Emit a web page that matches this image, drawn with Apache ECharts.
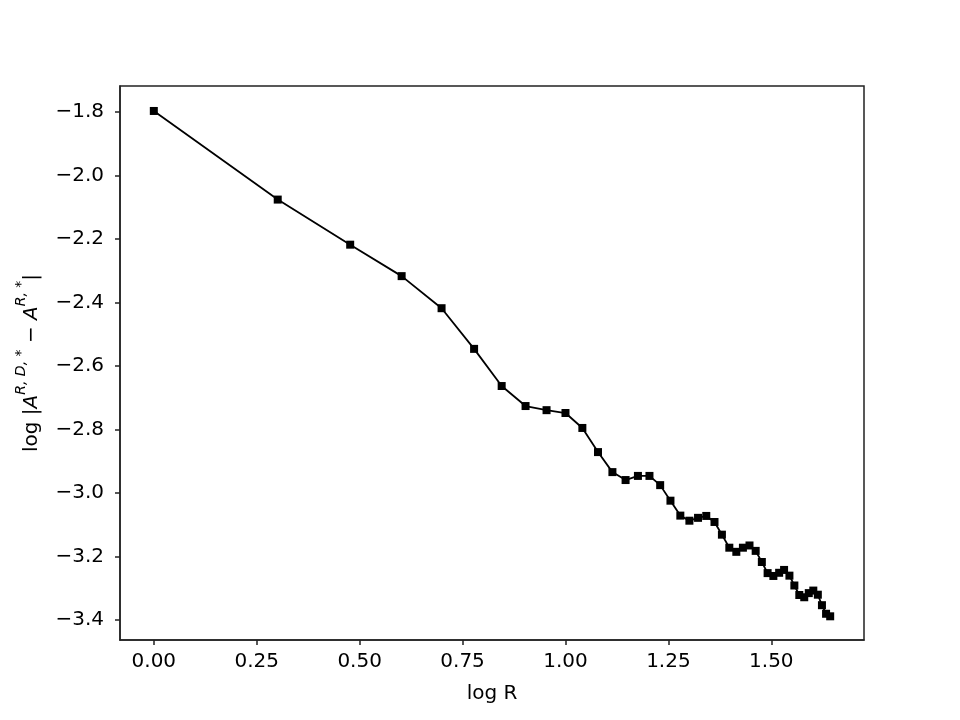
<!DOCTYPE html>
<html>
<head>
<meta charset="utf-8">
<script src="https://cdn.jsdelivr.net/npm/echarts@6/dist/echarts.min.js"></script>
<style>
html,body{margin:0;padding:0;background:#fff;}
#main{width:960px;height:720px;}
</style>
</head>
<body>
<div id="main"></div>
<script>
var logR = [0.000, 0.301, 0.477, 0.602, 0.699, 0.778, 0.845, 0.903, 0.954, 1.000,
            1.041, 1.079, 1.114, 1.146, 1.176, 1.204, 1.230, 1.255, 1.279, 1.301,
            1.322, 1.342, 1.362, 1.380, 1.398, 1.415, 1.431, 1.447, 1.462, 1.477,
            1.491, 1.505, 1.519, 1.531, 1.544, 1.556, 1.568, 1.580, 1.591, 1.602,
            1.613, 1.623, 1.633, 1.643];
var logDiff = [-1.797, -2.076, -2.218, -2.317, -2.418, -2.546, -2.663, -2.726, -2.739, -2.748,
               -2.795, -2.871, -2.934, -2.959, -2.946, -2.946, -2.975, -3.024, -3.071, -3.087,
               -3.078, -3.072, -3.091, -3.131, -3.172, -3.185, -3.172, -3.165, -3.182, -3.217,
               -3.252, -3.261, -3.251, -3.242, -3.260, -3.291, -3.321, -3.328, -3.315, -3.307,
               -3.320, -3.353, -3.380, -3.388];
var xTicks = [0, 0.25, 0.5, 0.75, 1.0, 1.25, 1.5];
var yTicks = [-3.4, -3.2, -3.0, -2.8, -2.6, -2.4, -2.2, -2.0, -1.8];

var font = 'DejaVu Sans';
var fs = 20;
function fmt(v, d) {
  var s = Math.abs(v).toFixed(d);
  return (v < 0 ? '\u2212' : '') + s;
}
var pts = logR.map(function (x, i) { return [x, logDiff[i]]; });

var chart = echarts.init(document.getElementById('main'), null, {renderer: 'canvas'});
chart.setOption({
  animation: false,
  backgroundColor: '#fff',
  grid: {left: 120, right: 96, top: 86, bottom: 80, show: true, borderColor: '#222', borderWidth: 1.5, backgroundColor: 'transparent'},
  xAxis: {
    type: 'value', min: -0.08215, max: 1.72515,
    name: 'log R', nameLocation: 'middle', nameGap: 44,
    nameTextStyle: {fontFamily: font, fontSize: fs, color: '#000'},
    axisLine: {show: true, onZero: false, lineStyle: {color: '#222', width: 1.5}},
    axisTick: {show: true, inside: false, length: 5, customValues: xTicks, lineStyle: {color: '#222', width: 1.5}},
    axisLabel: {customValues: xTicks, fontFamily: font, fontSize: fs, color: '#000', margin: 12,
      formatter: function (v) { return fmt(v, 2); }},
    splitLine: {show: false}
  },
  yAxis: {
    type: 'value', min: -3.4626, max: -1.7184,
    name: '{n|log |}{i|A}{s|R, D, *}{n| \u2212 }{i|A}{s|R, *}{n||}',
    nameLocation: 'middle', nameGap: 78, nameRotate: 90,
    nameTextStyle: {fontFamily: font, fontSize: fs, color: '#000',
      rich: {
        n: {fontFamily: font, fontSize: fs, color: '#000', lineHeight: 28, verticalAlign: 'bottom'},
        i: {fontFamily: font, fontSize: fs, fontStyle: 'italic', color: '#000', lineHeight: 28, verticalAlign: 'bottom'},
        s: {fontFamily: font, fontSize: 14, fontStyle: 'italic', color: '#000', lineHeight: 28, verticalAlign: 'top'}
      }},
    axisLine: {show: true, onZero: false, lineStyle: {color: '#222', width: 1.5}},
    axisTick: {show: true, inside: false, length: 5, customValues: yTicks, lineStyle: {color: '#222', width: 1.5}},
    axisLabel: {customValues: yTicks, fontFamily: font, fontSize: fs, color: '#000', margin: 16,
      formatter: function (v) { return fmt(v, 1); }},
    splitLine: {show: false}
  },
  series: [{
    type: 'line',
    data: pts,
    symbol: 'rect',
    symbolSize: 8,
    showSymbol: true,
    itemStyle: {color: '#000'},
    lineStyle: {color: '#000', width: 1.8},
    clip: false
  }]
});
</script>
</body>
</html>
